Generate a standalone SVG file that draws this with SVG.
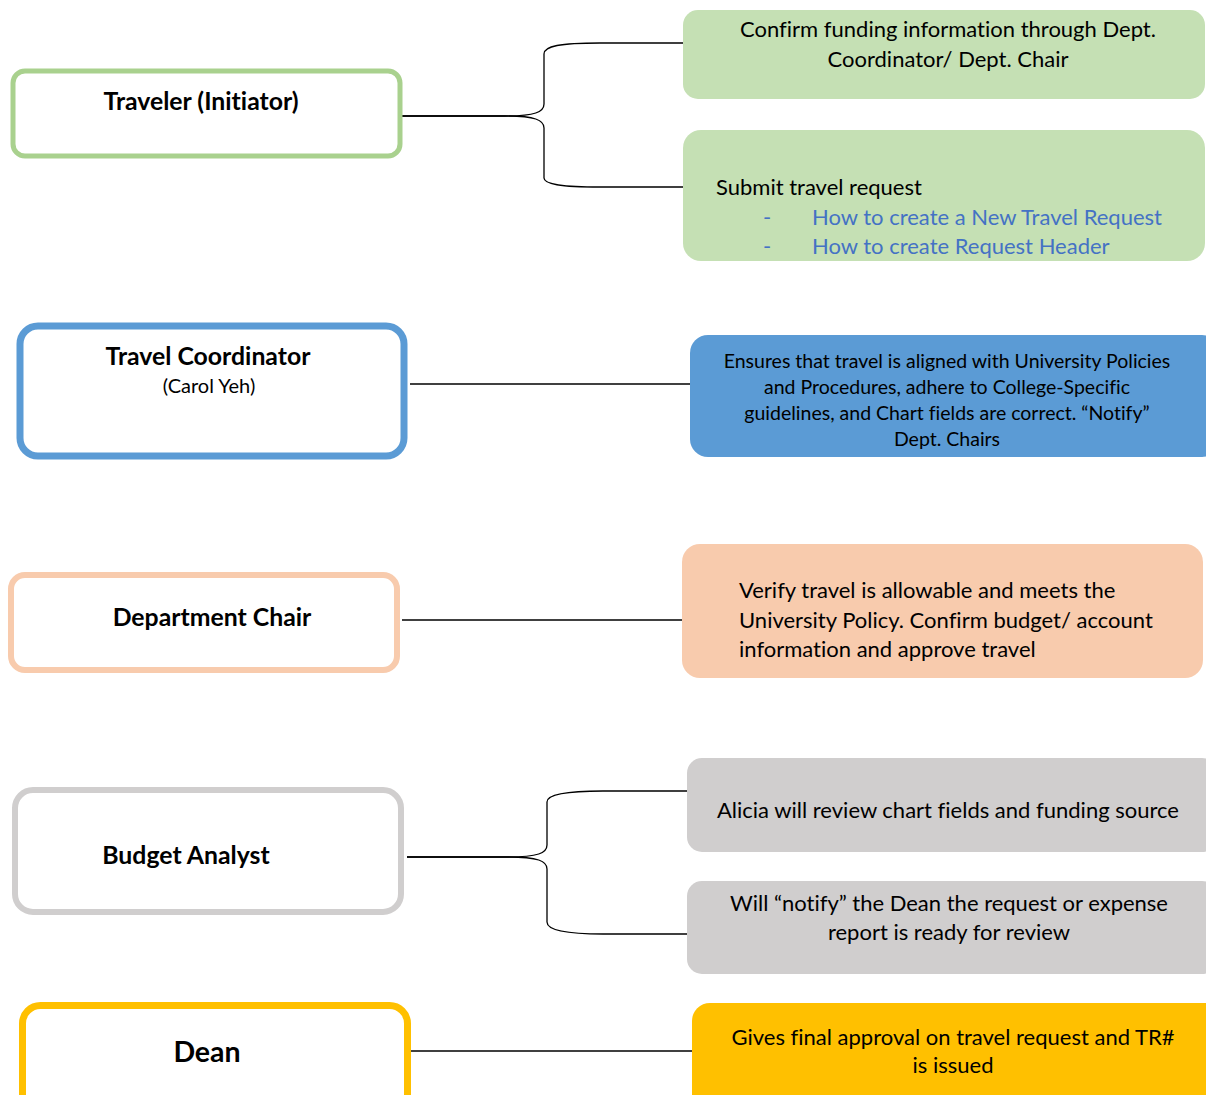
<svg xmlns="http://www.w3.org/2000/svg" width="1206" height="1095" viewBox="0 0 1206 1095">
<style>
.role{fill:#fff}
.t{font-family:Lato,"Open Sans",sans-serif;fill:#000;font-variant-ligatures:none}
.b{font-weight:bold;font-size:24.8px}
.d{font-size:22px}
.c{text-anchor:middle}
.lk{fill:#4472c4}
.conn{fill:none;stroke:#000;stroke-width:1.3}
</style>
<rect width="1206" height="1095" fill="#fff"/>
<g id="connectors">
<path class="conn" d="M402,116 H505 C535,116 544,112 544,104 V54 C544,46 560,43 600,43 H685"/>
<path class="conn" d="M402,116 H505 C535,116 544,120 544,128 V178 C544,184 560,187 600,187 H685"/>
<path class="conn" d="M410,384 H690"/>
<path class="conn" d="M402,620 H682"/>
<path class="conn" d="M407,857 H508 C538,857 547,853 547,845 V802 C547,795 563,791 603,791 H687"/>
<path class="conn" d="M407,857 H508 C538,857 547,861 547,869 V922 C547,929 563,934 603,934 H687"/>
<path class="conn" d="M408,1051 H692"/>
</g>
<g id="traveler">
<rect class="role" x="13" y="71" width="387" height="85" rx="12" stroke="#a9d18e" stroke-width="5"/>
<text class="t b c" x="201" y="110">Traveler (Initiator)</text>
</g>
<g id="funding">
<rect x="683" y="10" width="522" height="89" rx="15" fill="#c5e0b4"/>
<text class="t d c" x="948" y="37">Confirm funding information through Dept.</text>
<text class="t d c" x="948" y="67">Coordinator/ Dept. Chair</text>
</g>
<g id="submit">
<rect x="683" y="130" width="522" height="131" rx="18" fill="#c5e0b4"/>
<text class="t d" x="716" y="195">Submit travel request</text>
<text class="t d lk" x="763" y="225">-</text>
<text class="t d lk" x="812" y="225">How to create a New Travel Request</text>
<text class="t d lk" x="763" y="254">-</text>
<text class="t d lk" x="812" y="254">How to create Request Header</text>
</g>
<g id="coordinator">
<rect class="role" x="20" y="326" width="384" height="130" rx="18" stroke="#5b9bd5" stroke-width="7"/>
<text class="t b c" x="208" y="365">Travel Coordinator</text>
<text class="t c" x="209" y="393" font-size="20">(Carol Yeh)</text>
</g>
<g id="coordinator-task">
<rect x="690" y="335" width="530" height="122" rx="18" fill="#5b9bd5"/>
<text class="t c" font-size="19.5" x="947" y="368">Ensures that travel is aligned with University Policies</text>
<text class="t c" font-size="19.5" x="947" y="394">and Procedures, adhere to College-Specific</text>
<text class="t c" font-size="19.5" x="947" y="420">guidelines, and Chart fields are correct. “Notify”</text>
<text class="t c" font-size="19.5" x="947" y="446">Dept. Chairs</text>
</g>
<g id="chair">
<rect class="role" x="11" y="575" width="386" height="95" rx="14" stroke="#f8cbad" stroke-width="6"/>
<text class="t b c" x="212" y="626">Department Chair</text>
</g>
<g id="chair-task">
<rect x="682" y="544" width="521" height="134" rx="18" fill="#f8cbad"/>
<text class="t d" x="739" y="598">Verify travel is allowable and meets the</text>
<text class="t d" x="739" y="628">University Policy. Confirm budget/ account</text>
<text class="t d" x="739" y="657">information and approve travel</text>
</g>
<g id="budget">
<rect class="role" x="15" y="790" width="386" height="122" rx="18" stroke="#d0cece" stroke-width="6"/>
<text class="t b c" x="186" y="864">Budget Analyst</text>
</g>
<g id="budget-review">
<rect x="687" y="758" width="530" height="94" rx="15" fill="#d0cece"/>
<text class="t d c" x="948" y="818">Alicia will review chart fields and funding source</text>
</g>
<g id="budget-notify">
<rect x="687" y="881" width="530" height="93" rx="15" fill="#d0cece"/>
<text class="t d c" x="949" y="911">Will “notify” the Dean the request or expense</text>
<text class="t d c" x="949" y="940">report is ready for review</text>
</g>
<g id="dean">
<rect class="role" x="22.5" y="1005.5" width="385" height="110" rx="18" stroke="#ffc000" stroke-width="7"/>
<text class="t c" font-weight="bold" font-size="28.5" x="207" y="1062">Dean</text>
</g>
<g id="dean-task">
<rect x="692" y="1003" width="530" height="110" rx="18" fill="#ffc000"/>
<text class="t d c" x="953" y="1045">Gives final approval on travel request and TR#</text>
<text class="t d c" x="953" y="1073">is issued</text>
</g>
</svg>
